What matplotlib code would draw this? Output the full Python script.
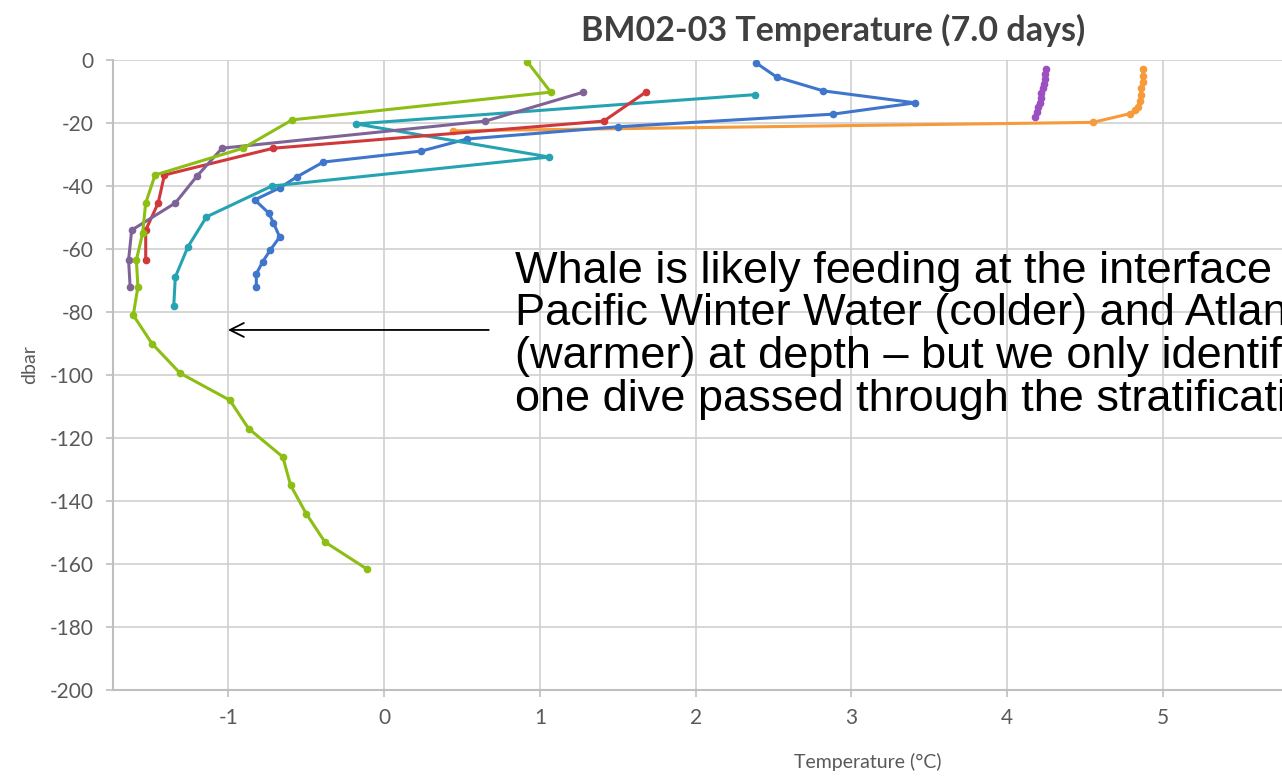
import matplotlib
matplotlib.use("Agg")
import matplotlib.pyplot as plt

plt.rcParams["axes.unicode_minus"] = False

# temperature (degC) and pressure (dbar) for each dive profile
orange_t = [4.87, 4.87, 4.87, 4.86, 4.86, 4.85, 4.84, 4.82, 4.79, 4.55, 0.44]
orange_p = [-3, -5, -7, -9, -11, -13, -15, -16, -17, -19.8, -22.5]

violet_t = [4.25, 4.245, 4.24, 4.235, 4.23, 4.22, 4.215, 4.21, 4.20, 4.19, 4.18]
violet_p = [-3, -4.5, -6, -7.5, -9, -10.5, -12, -13.5, -15, -16.5, -18]

blue_t = [2.39, 2.52, 2.82, 3.41, 2.88, 1.50, 0.53, 0.24, -0.39, -0.56, -0.67,
          -0.83, -0.74, -0.71, -0.67, -0.73, -0.78, -0.82, -0.82]
blue_p = [-1, -5.4, -9.8, -13.6, -17.2, -21.2, -25.1, -28.9, -32.4, -37.1, -40.6,
          -44.4, -48.6, -51.7, -56.2, -60.3, -64.1, -67.9, -72]

teal_t = [2.38, -0.18, 1.06, -0.72, -1.14, -1.26, -1.34, -1.35]
teal_p = [-11, -20.3, -30.8, -40, -49.8, -59.4, -68.9, -78]

red_t = [1.68, 1.41, -0.71, -1.41, -1.45, -1.53, -1.53]
red_p = [-10.2, -19.4, -28, -36.5, -45.4, -54, -63.5]

purple_t = [1.28, 0.65, -1.04, -1.20, -1.34, -1.62, -1.64, -1.63]
purple_p = [-10.2, -19.4, -28, -36.8, -45.4, -54, -63.5, -72]

green_t = [0.92, 1.07, -0.59, -0.905, -1.47, -1.53, -1.55, -1.59, -1.58, -1.61,
           -1.49, -1.31, -0.99, -0.87, -0.65, -0.60, -0.50, -0.38, -0.11]
green_p = [-0.6, -10.2, -19, -28, -36.5, -45.4, -55, -63.5, -72, -81,
           -90, -99.4, -108, -117, -126, -135, -144, -153, -161.6]

profiles = [
    (orange_t, orange_p, "#F79A3C"),
    (violet_t, violet_p, "#9B4FC0"),
    (blue_t, blue_p, "#3F76CC"),
    (teal_t, teal_p, "#26A3B2"),
    (red_t, red_p, "#D0383A"),
    (purple_t, purple_p, "#7F6397"),
    (green_t, green_p, "#8CBE14"),
]

x_ticks = [-1, 0, 1, 2, 3, 4, 5, 6]
y_ticks = list(range(-200, 1, 20))

note_lines = [
    "Whale is likely feeding at the interface of",
    "Pacific Winter Water (colder) and Atlantic Water",
    "(warmer) at depth \u2013 but we only identified that",
    "one dive passed through the stratification",
]

fig = plt.figure(figsize=(12.82, 7.76), dpi=100)
ax = fig.add_axes([113 / 1282, 1 - 690 / 776, 1 - 113 / 1282, (690 - 60) / 776])

for t, p, c in profiles:
    ax.plot(t, p, color=c, lw=2.2, marker="o", ms=4.5, zorder=3)

ax.set_xticks(x_ticks)
ax.set_yticks(y_ticks)
# the original chart runs on past 6 degC; only the part up to ~5.76 is visible
ax.set_xlim(-1.74, 5.764)
ax.set_ylim(-200, 0)
ax.grid(True, color="#D0D0D0", lw=1.2)
ax.set_axisbelow(True)
for s in ["top", "right"]:
    ax.spines[s].set_visible(False)
for s in ["left", "bottom"]:
    ax.spines[s].set_color("#BFBFBF")
    ax.spines[s].set_linewidth(1.5)
ax.tick_params(colors="#BFBFBF", labelcolor="#595959", labelsize=15, length=5, width=1.2)
ax.tick_params(axis="y", pad=9)
ax.tick_params(axis="x", pad=8)
for lab in ax.get_xticklabels() + ax.get_yticklabels():
    lab.set_family("Lato")

fig.text(833 / 1282, 1 - 30 / 776, "BM02-03 Temperature (7.0 days)", ha="center", va="center",
         fontsize=24.5, fontweight="bold", color="#404040", family="Lato")
fig.text(868 / 1282, 1 - 762 / 776, "Temperature (\u00b0C)", ha="center", va="center",
         fontsize=14, color="#595959", family="Lato")
fig.text(30 / 1282, 1 - 365 / 776, "dbar", ha="center", va="center", rotation=90,
         fontsize=14, color="#595959", family="Lato")

# the note runs past the right edge of the slide, as in the original
for i, line in enumerate(note_lines):
    fig.text(515 / 1282, 1 - (271 + i * 43) / 776, line, ha="left", va="center",
             fontsize=32.5, color="black", family="Liberation Sans")

ax.annotate("", xy=(-1.02, -85.7), xytext=(0.69, -85.7),
            arrowprops=dict(arrowstyle="->", color="black", lw=1.3, mutation_scale=25))

fig.savefig("out.png", dpi=100)
